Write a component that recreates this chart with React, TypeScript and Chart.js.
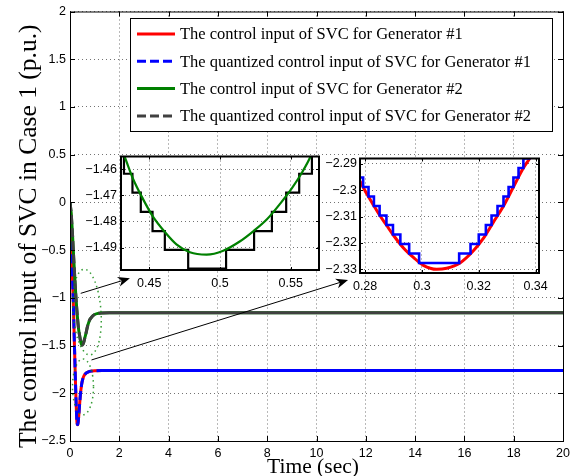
import React, { useEffect, useRef } from "react";
import { Chart, registerables } from "chart.js";

Chart.register(...registerables);

// ---------------- data: main plot ----------------
const GEN1_T = [0, 0.03, 0.07, 0.1, 0.135, 0.17, 0.2, 0.23, 0.255, 0.28, 0.2935, 0.3052, 0.3181, 0.3378, 0.36, 0.38, 0.42, 0.47, 0.52, 0.57, 0.65, 0.75, 0.85, 1.0, 1.3, 2, 20];
const GEN1_U = [0, -0.12, -0.5, -0.78, -1.05, -1.4, -1.68, -1.95, -2.15, -2.2966, -2.3219, -2.33, -2.323, -2.2882, -2.22, -2.15, -2.02, -1.91, -1.85, -1.815, -1.79, -1.775, -1.768, -1.764, -1.762, -1.762, -1.762];
const GEN1_Q = [0, -0.12, -0.5, -0.78, -1.05, -1.4, -1.68, -1.95, -2.15, -2.2952, -2.3204, -2.3276, -2.3204, -2.2844, -2.22, -2.15, -2.02, -1.91, -1.85, -1.815, -1.79, -1.775, -1.768, -1.764, -1.762, -1.762, -1.762];
const GEN2_T = [0, 0.05, 0.1, 0.15, 0.2, 0.25, 0.3, 0.35, 0.4, 0.4325, 0.4526, 0.4692, 0.4905, 0.5142, 0.5426, 0.564, 0.6, 0.65, 0.7, 0.75, 0.8, 0.9, 1.0, 1.1, 1.3, 1.6, 20];
const GEN2_U = [0, -0.12, -0.33, -0.58, -0.82, -1.03, -1.2, -1.33, -1.41, -1.4552, -1.4782, -1.4888, -1.4927, -1.4876, -1.4732, -1.4552, -1.42, -1.37, -1.31, -1.265, -1.23, -1.195, -1.175, -1.165, -1.158, -1.155, -1.155];
const GEN2_Q = [0, -0.12, -0.33, -0.58, -0.82, -1.03, -1.2, -1.33, -1.41, -1.4618, -1.4837, -1.4909, -1.4981, -1.4909, -1.4764, -1.4618, -1.42, -1.37, -1.31, -1.265, -1.23, -1.195, -1.175, -1.165, -1.158, -1.155, -1.155];

const MAIN_X_TICKS = [0, 2, 4, 6, 8, 10, 12, 14, 16, 18, 20];
const MAIN_Y_TICKS = [2, 1.5, 1, 0.5, 0, -0.5, -1, -1.5, -2, -2.5];

const LEGEND_LABELS = [
  "The control input of SVC for Generator #1",
  "The quantized control input of SVC for Generator #1",
  "The control input of SVC for Generator #2",
  "The quantized control input of SVC for Generator #2",
];
const X_TITLE = "Time (sec)";
const Y_TITLE = "The control input of SVC in Case 1 (p.u.)";

// ---------------- data: inset 1 (Generator #2 zoom) ----------------
const IN1_T = [0.428, 0.4325, 0.4384, 0.4455, 0.4526, 0.4609, 0.4692, 0.4787, 0.4905, 0.5023, 0.5142, 0.5237, 0.5332, 0.5426, 0.551, 0.5581, 0.564, 0.568];
const IN1_U = [-1.4495, -1.4552, -1.4636, -1.4714, -1.4782, -1.484, -1.4888, -1.4918, -1.4927, -1.4912, -1.4876, -1.4837, -1.4792, -1.4732, -1.4672, -1.4612, -1.4552, -1.4495];
const IN1_QT = [0.42, 0.4321, 0.4381, 0.444, 0.4523, 0.461, 0.4775, 0.5043, 0.5241, 0.5367, 0.5468, 0.556, 0.565, 0.58];
const IN1_QU = [-1.4545, -1.4618, -1.469, -1.4764, -1.4837, -1.4909, -1.4981, -1.4909, -1.4837, -1.4764, -1.469, -1.4618, -1.4545, -1.4545];
const IN1_X_TICKS = [0.45, 0.5, 0.55];
const IN1_Y_TICKS = [-1.46, -1.47, -1.48, -1.49];

// ---------------- data: inset 2 (Generator #1 zoom) ----------------
const IN2_T = [0.2782, 0.2806, 0.2829, 0.2853, 0.2876, 0.2899, 0.2935, 0.297, 0.3005, 0.3052, 0.3087, 0.3134, 0.3181, 0.3216, 0.3251, 0.3286, 0.3321, 0.3356, 0.3378, 0.34];
const IN2_U = [-2.2966, -2.3014, -2.3056, -2.3098, -2.3134, -2.317, -2.3219, -2.3255, -2.3285, -2.33, -2.3296, -2.3276, -2.323, -2.3183, -2.3122, -2.3062, -2.299, -2.2918, -2.2882, -2.2845];
const IN2_QT = [0.276, 0.2793, 0.2812, 0.2831, 0.2851, 0.2875, 0.2898, 0.2924, 0.2955, 0.299, 0.3131, 0.3171, 0.32, 0.3225, 0.3245, 0.3266, 0.3287, 0.3305, 0.3322, 0.334, 0.3357, 0.3378, 0.345];
const IN2_QU = [-2.2952, -2.2988, -2.3024, -2.306, -2.3096, -2.3132, -2.3168, -2.3204, -2.324, -2.3276, -2.324, -2.3204, -2.3168, -2.3132, -2.3096, -2.306, -2.3024, -2.2988, -2.2952, -2.2916, -2.288, -2.2844, -2.2844];
const IN2_X_TICKS = [0.28, 0.3, 0.32, 0.34];
const IN2_Y_TICKS = [-2.29, -2.3, -2.31, -2.32, -2.33];

// ---------------- annotations (data coordinates of main axes) ----------------
const ARROWS = [
  { x1: 0.434, y1: -0.953, x2: 2.43, y2: -0.795 },
  { x1: 0.872, y1: -1.651, x2: 11.28, y2: -0.812 },
];
const ELLIPSES = [
  { cx: 0.69, cy: -1.149, rx: 0.568, ry: 0.45, rot: -0.07 },
  { cx: 0.527, cy: -1.933, rx: 0.426, ry: 0.293, rot: 0 },
];

// ---------------- styles ----------------
const RED = "#ff0000";
const BLUE = "#0000ff";
const GREEN = "#008000";
const GRAY = "#404040";
const GRID = "rgba(0,0,0,0.55)";
const SANS = '"Liberation Sans", Arial, Helvetica, sans-serif';
const SERIF = '"Liberation Serif", "Times New Roman", serif';
const DASH = [9, 4];

const pts = (xs: number[], ys: number[]) => xs.map((x, i) => ({ x, y: ys[i] }));
const fmt = (v: number | string) => String(Number(v)).replace("-", "\u2212");

function frame(chart: any, len: number, lw: number) {
  const { ctx, chartArea: a, scales } = chart;
  ctx.save();
  ctx.setLineDash([]);
  ctx.strokeStyle = "#000";
  ctx.lineWidth = 1;
  ctx.beginPath();
  for (const t of scales.x.ticks) {
    const px = Math.round(scales.x.getPixelForValue(t.value)) + 0.5;
    ctx.moveTo(px, a.bottom);
    ctx.lineTo(px, a.bottom - len);
    ctx.moveTo(px, a.top);
    ctx.lineTo(px, a.top + len);
  }
  for (const t of scales.y.ticks) {
    const py = Math.round(scales.y.getPixelForValue(t.value)) + 0.5;
    ctx.moveTo(a.left, py);
    ctx.lineTo(a.left + len, py);
    ctx.moveTo(a.right, py);
    ctx.lineTo(a.right - len, py);
  }
  ctx.stroke();
  ctx.lineWidth = lw;
  const o = lw % 2 === 1 ? 0.5 : 0;
  ctx.strokeRect(a.left + o, a.top + o, a.right - a.left, a.bottom - a.top);
  ctx.restore();
}

function drawArrow(ctx: CanvasRenderingContext2D, x1: number, y1: number, x2: number, y2: number) {
  const ang = Math.atan2(y2 - y1, x2 - x1);
  const c = Math.cos(ang), s = Math.sin(ang);
  const L = 12, W = 5, back = 3.5;
  ctx.beginPath();
  ctx.moveTo(x1, y1);
  ctx.lineTo(x2 - (L - back) * c, y2 - (L - back) * s);
  ctx.stroke();
  ctx.beginPath();
  ctx.moveTo(x2, y2);
  ctx.lineTo(x2 - L * c + W * s, y2 - L * s - W * c);
  ctx.lineTo(x2 - (L - back) * c, y2 - (L - back) * s);
  ctx.lineTo(x2 - L * c - W * s, y2 - L * s + W * c);
  ctx.closePath();
  ctx.fill();
}

const mainDecor = {
  id: "mainDecor",
  afterDatasetsDraw(chart: any) {
    const { ctx, scales } = chart;
    const xs = scales.x, ys = scales.y;
    const pxPerX = Math.abs(xs.getPixelForValue(1) - xs.getPixelForValue(0));
    const pxPerY = Math.abs(ys.getPixelForValue(1) - ys.getPixelForValue(0));
    ctx.save();
    ctx.strokeStyle = "rgba(20,140,20,0.85)";
    ctx.lineWidth = 1.5;
    ctx.setLineDash([1.5, 3.5]);
    for (const e of ELLIPSES) {
      ctx.beginPath();
      ctx.ellipse(xs.getPixelForValue(e.cx), ys.getPixelForValue(e.cy), e.rx * pxPerX, e.ry * pxPerY, e.rot, 0, Math.PI * 2);
      ctx.stroke();
    }
    ctx.setLineDash([]);
    ctx.strokeStyle = "#000";
    ctx.fillStyle = "#000";
    ctx.lineWidth = 1;
    for (const a of ARROWS) {
      drawArrow(ctx, xs.getPixelForValue(a.x1), ys.getPixelForValue(a.y1), xs.getPixelForValue(a.x2), ys.getPixelForValue(a.y2));
    }
    ctx.restore();
    frame(chart, 5, 1);
  },
  afterDraw(chart: any) {
    const { ctx, chartArea: a } = chart;
    ctx.save();
    const bx = 130, by = 18, bw = 422, bh = 113;
    ctx.fillStyle = "#fff";
    ctx.fillRect(bx, by, bw, bh);
    ctx.strokeStyle = "#000";
    ctx.lineWidth = 1;
    ctx.strokeRect(bx + 0.5, by + 0.5, bw, bh);
    const ds = chart.data.datasets;
    ctx.font = `16.5px ${SERIF}`;
    ctx.textBaseline = "middle";
    ctx.textAlign = "left";
    LEGEND_LABELS.forEach((lab, i) => {
      const y = 34 + i * 27.3;
      ctx.strokeStyle = ds[i].borderColor;
      ctx.lineWidth = 3;
      ctx.setLineDash(ds[i].legendDash || []);
      ctx.beginPath();
      ctx.moveTo(137, y);
      ctx.lineTo(175, y);
      ctx.stroke();
      ctx.setLineDash([]);
      ctx.fillStyle = "#000";
      ctx.fillText(lab, 180, y + 1);
    });
    ctx.fillStyle = "#000";
    ctx.font = `21.5px ${SERIF}`;
    ctx.textAlign = "center";
    ctx.textBaseline = "alphabetic";
    ctx.fillText(X_TITLE, 313, 473);
    ctx.save();
    ctx.translate(29, (a.top + a.bottom) / 2 + 10);
    ctx.rotate(-Math.PI / 2);
    ctx.font = `25.5px ${SERIF}`;
    ctx.textBaseline = "middle";
    ctx.fillText(Y_TITLE, 0, 0);
    ctx.restore();
    ctx.restore();
  },
};

const insetDecor = {
  id: "insetDecor",
  beforeDraw(chart: any) {
    const { ctx, chartArea: a } = chart;
    ctx.save();
    ctx.fillStyle = "#fff";
    ctx.fillRect(a.left, a.top, a.right - a.left, a.bottom - a.top);
    ctx.restore();
  },
  afterDatasetsDraw(chart: any) {
    frame(chart, 3, 2);
  },
};

function axis(min: number, max: number, ticks: number[], size: number, pad: number, isX: boolean) {
  return {
    type: "linear",
    min,
    max,
    afterBuildTicks: (s: any) => {
      s.ticks = ticks.map((v) => ({ value: v }));
    },
    afterFit: (s: any) => {
      if (isX) s.height = size;
      else s.width = size;
    },
    grid: { color: GRID, lineWidth: 1, drawTicks: false },
    border: { display: false, dash: [1, 3] },
    ticks: {
      color: "#000",
      font: { family: SANS, size: 12.5 },
      padding: pad,
      autoSkip: false,
      maxRotation: 0,
      callback: (v: any) => fmt(v),
    },
  };
}

const baseOpts = (padding: any, x: any, y: any) => ({
  responsive: false,
  animation: false,
  devicePixelRatio: 1,
  layout: { padding },
  plugins: { legend: { display: false }, tooltip: { enabled: false } },
  elements: { point: { radius: 0 } },
  scales: { x, y },
});

export default function App() {
  const mainRef = useRef<HTMLCanvasElement>(null);
  const in1Ref = useRef<HTMLCanvasElement>(null);
  const in2Ref = useRef<HTMLCanvasElement>(null);

  useEffect(() => {
    const dashSeg = { borderDash: (c: any) => (c.p0.parsed.x < 1.2 ? DASH : []) };
    const main = new Chart(mainRef.current as HTMLCanvasElement, {
      type: "line",
      data: {
        datasets: [
          { label: LEGEND_LABELS[0], data: pts(GEN1_T, GEN1_U), borderColor: RED, borderWidth: 3, order: 3, cubicInterpolationMode: "monotone" },
          { label: LEGEND_LABELS[1], data: pts(GEN1_T, GEN1_Q), borderColor: BLUE, borderWidth: 3, order: 2, cubicInterpolationMode: "monotone", segment: dashSeg, legendDash: DASH },
          { label: LEGEND_LABELS[2], data: pts(GEN2_T, GEN2_U), borderColor: GREEN, borderWidth: 3, order: 1, cubicInterpolationMode: "monotone" },
          { label: LEGEND_LABELS[3], data: pts(GEN2_T, GEN2_Q), borderColor: GRAY, borderWidth: 3, order: 0, cubicInterpolationMode: "monotone", segment: dashSeg, legendDash: DASH },
        ] as any,
      },
      options: baseOpts(
        { left: 8, right: 20, top: 11, bottom: 0 },
        axis(0, 20, MAIN_X_TICKS, 35, 5, true),
        axis(-2.5, 2, MAIN_Y_TICKS, 62, 4, false)
      ) as any,
      plugins: [mainDecor],
    });

    const in1 = new Chart(in1Ref.current as HTMLCanvasElement, {
      type: "line",
      data: {
        datasets: [
          { data: pts(IN1_QT, IN1_QU), borderColor: "#000", borderWidth: 2.2, stepped: "before", order: 1 },
          { data: pts(IN1_T, IN1_U), borderColor: GREEN, borderWidth: 2.2, cubicInterpolationMode: "monotone", order: 0 },
        ] as any,
      },
      options: baseOpts(
        { left: 0, right: 8, top: 5, bottom: 0 },
        axis(0.43, 0.57, IN1_X_TICKS, 25, 6, true),
        axis(-1.4986, -1.4552, IN1_Y_TICKS, 59, 4, false)
      ) as any,
      plugins: [insetDecor],
    });

    const in2 = new Chart(in2Ref.current as HTMLCanvasElement, {
      type: "line",
      data: {
        datasets: [
          { data: pts(IN2_T, IN2_U), borderColor: RED, borderWidth: 3, cubicInterpolationMode: "monotone", order: 1 },
          { data: pts(IN2_QT, IN2_QU), borderColor: BLUE, borderWidth: 2.6, stepped: "before", order: 0 },
        ] as any,
      },
      options: baseOpts(
        { left: 0, right: 44, top: 5, bottom: 0 },
        axis(0.2782, 0.3412, IN2_X_TICKS, 25, 6, true),
        axis(-2.3314, -2.288, IN2_Y_TICKS, 42, 3, false)
      ) as any,
      plugins: [insetDecor],
    });

    return () => {
      main.destroy();
      in1.destroy();
      in2.destroy();
    };
  }, []);

  return (
    <div style={{ position: "absolute", left: 0, top: 0, width: 583, height: 476, background: "#fff", overflow: "hidden" }}>
      <canvas ref={mainRef} width={583} height={476} style={{ position: "absolute", left: 0, top: 0 }} />
      <canvas ref={in1Ref} width={265} height={150} style={{ position: "absolute", left: 62, top: 145 }} />
      <canvas ref={in2Ref} width={265} height={150} style={{ position: "absolute", left: 318, top: 148 }} />
    </div>
  );
}
